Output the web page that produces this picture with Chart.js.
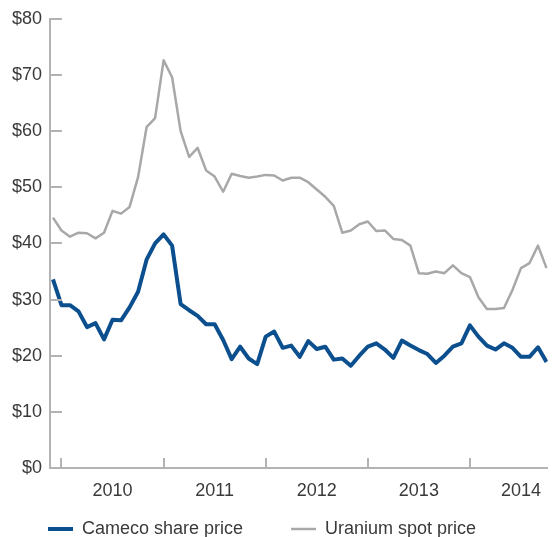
<!DOCTYPE html>
<html>
<head>
<meta charset="utf-8">
<script src="https://cdn.jsdelivr.net/npm/chart.js@4.4.1/dist/chart.umd.min.js"></script>
<style>
  html, body { margin: 0; padding: 0; background: #fff; }
  #wrap { width: 553px; height: 537px; }
</style>
</head>
<body>
<div id="wrap"><canvas id="line-chart"></canvas></div>
<script>
// 월별 값 (2009.12 ~ 2014.10, 달마다 한 점)
var cameco = [
  33.6, 29.0, 29.0, 27.9, 25.1, 25.8, 22.9, 26.4, 26.3, 28.6,
  31.4, 37.1, 40.0, 41.6, 39.6, 29.2, 28.1, 27.1, 25.6, 25.6,
  22.8, 19.4, 21.6, 19.5, 18.5, 23.4, 24.3, 21.4, 21.8, 19.8,
  22.6, 21.2, 21.6, 19.3, 19.5, 18.2, 20.0, 21.6, 22.2, 21.1,
  19.6, 22.7, 21.8, 21.0, 20.3, 18.7, 20.0, 21.6, 22.2, 25.4,
  23.4, 21.8, 21.1, 22.2, 21.4, 19.8, 19.8, 21.5, 18.9
];
var uranium = [
  44.6, 42.3, 41.2, 41.9, 41.8, 40.9, 41.9, 45.8, 45.3, 46.5,
  51.8, 60.7, 62.3, 72.6, 69.6, 60.0, 55.4, 57.0, 53.0, 51.9,
  49.2, 52.4, 52.0, 51.7, 51.9, 52.2, 52.1, 51.2, 51.7, 51.7,
  50.9, 49.6, 48.3, 46.7, 41.9, 42.3, 43.4, 43.9, 42.2, 42.3,
  40.8, 40.6, 39.6, 34.7, 34.6, 35.0, 34.7, 36.1, 34.7, 34.0,
  30.4, 28.3, 28.3, 28.5, 31.7, 35.6, 36.5, 39.6, 35.6
];

// x축 연도 라벨, 각 연도 1월의 인덱스
var years = ["2010", "2011", "2012", "2013", "2014"];
var yearStart = [1, 13, 25, 37, 49];
var yTicks = [0, 10, 20, 30, 40, 50, 60, 70, 80];

var axisColor = "#b3b3b3";
var textColor = "#3a3a3a";

Chart.defaults.font.family = "'Liberation Sans', Arial, sans-serif";
Chart.defaults.font.size = 18;
Chart.defaults.color = textColor;

function toPoints(arr) {
  return arr.map(function (v, i) {
    return { x: i, y: v };
  });
}

// 축 안쪽으로 짧은 눈금 그리기
var innerTicks = {
  id: "innerTicks",
  afterDraw: function (chart) {
    var ctx = chart.ctx;
    var area = chart.chartArea;
    var xs = chart.scales.x;
    var ys = chart.scales.y;
    ctx.save();
    ctx.strokeStyle = axisColor;
    ctx.lineWidth = 2;
    ctx.beginPath();
    yTicks.forEach(function (v) {
      if (v === 0) return;
      var py = Math.round(ys.getPixelForValue(v));
      ctx.moveTo(area.left, py);
      ctx.lineTo(area.left + 12, py);
    });
    yearStart.forEach(function (v) {
      var px = Math.round(xs.getPixelForValue(v));
      ctx.moveTo(px, area.bottom);
      ctx.lineTo(px, area.bottom - 10);
    });
    ctx.stroke();
    ctx.restore();
  }
};

// 범례: 레이아웃에선 낮게 잡고, 배치 후 위로 늘림 (padding이 좌우 간격에도 쓰여서)
var legendFit = {
  id: "legendFit",
  beforeLayout: function (chart) {
    var lg = chart.legend;
    if (lg && !lg._fixed) {
      var fit = lg.fit;
      lg.fit = function () {
        fit.call(this);
        this.height = 29;
      };
      lg._fixed = true;
    }
  },
  afterLayout: function (chart) {
    var lg = chart.legend;
    if (lg) {
      lg.top = lg.bottom - 65;
      lg.height = 65;
    }
  }
};

new Chart(document.getElementById("line-chart"), {
  type: "line",
  data: {
    datasets: [
      {
        label: "Cameco share price",
        data: toPoints(cameco),
        borderColor: "#0c4f8e",
        borderWidth: 4,
        borderJoinStyle: "round",
        pointRadius: 0,
        fill: false
      },
      {
        label: "Uranium spot price",
        data: toPoints(uranium),
        borderColor: "#a8a8a8",
        borderWidth: 2.5,
        borderJoinStyle: "round",
        pointRadius: 0,
        fill: false
      }
    ]
  },
  options: {
    responsive: true,
    maintainAspectRatio: false,
    animation: false,
    layout: {
      padding: { top: 16, right: 0, bottom: 0, left: 0 }
    },
    scales: {
      x: {
        type: "linear",
        min: -0.35,
        max: 58.15,
        grid: { display: false, drawTicks: false },
        border: { display: true, color: axisColor, width: 2 },
        afterBuildTicks: function (s) {
          s.ticks = yearStart.map(function (v) {
            return { value: v + 6 };
          });
        },
        afterFit: function (s) {
          s.height = 40;
        },
        ticks: {
          autoSkip: false,
          maxRotation: 0,
          padding: 12,
          callback: function (v, i) {
            return years[i];
          }
        }
      },
      y: {
        min: 0,
        max: 80,
        grid: { display: false, drawTicks: false },
        border: { display: true, color: axisColor, width: 2 },
        afterFit: function (s) {
          s.width = 50;
        },
        ticks: {
          stepSize: 10,
          padding: 8,
          callback: function (v) {
            return "$" + v;
          }
        }
      }
    },
    plugins: {
      legend: {
        position: "bottom",
        align: "start",
        labels: {
          usePointStyle: true,
          pointStyle: "line",
          pointStyleWidth: 25,
          padding: 48,
          color: textColor
        }
      },
      tooltip: { enabled: false }
    }
  },
  plugins: [innerTicks, legendFit]
});
</script>
</body>
</html>
